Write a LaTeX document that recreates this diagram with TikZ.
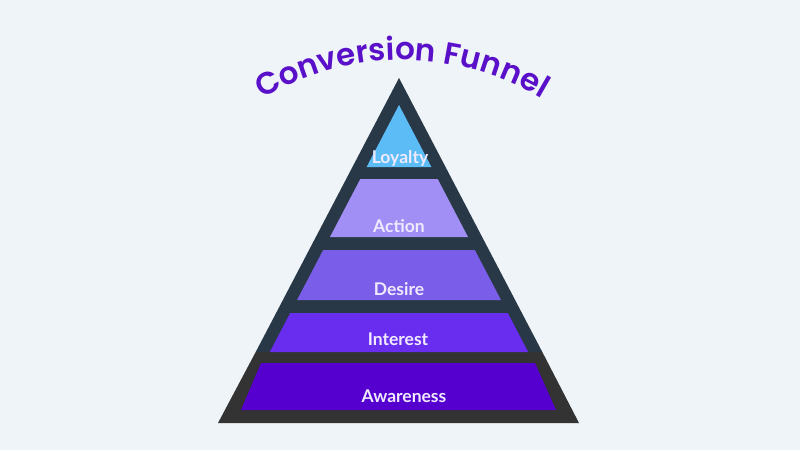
\documentclass[tikz,border=0pt]{standalone}
\usepackage{fontspec}
\usetikzlibrary{decorations.text}
\newfontfamily\titlefont{Poppins SemiBold}
\newfontfamily\labelfont{Lato}
\definecolor{bgc}{HTML}{EEF4F8}
\definecolor{slatec}{HTML}{293846}
\definecolor{grayc}{HTML}{333333}
\definecolor{loyc}{HTML}{5BBCF6}
\definecolor{actc}{HTML}{A18FF5}
\definecolor{desc}{HTML}{7A5DE8}
\definecolor{intc}{HTML}{692DF0}
\definecolor{awac}{HTML}{5500CF}
\definecolor{titlec}{HTML}{5A10C8}
\definecolor{labc}{HTML}{F0EAFF}
\newcommand\pband[3]{\fill[#3] ({399-0.523*(#1-105)},#1) -- ({399+0.523*(#1-105)},#1) -- ({399+0.523*(#2-105)},#2) -- ({399-0.523*(#2-105)},#2) -- cycle;}
\begin{document}
\begin{tikzpicture}[x=1pt,y=-1pt,
  lab/.style={text=labc,font=\labelfont\bfseries\fontsize{17.5}{20}\selectfont,inner sep=0pt,anchor=base}]
\useasboundingbox (0,0) rectangle (800,450);
\fill[bgc] (0,0) rectangle (800,450);
% outer pyramid
\fill[slatec] (399,78) -- (542.3,352) -- (255.7,352) -- cycle;
\fill[grayc] (255.7,352) -- (542.3,352) -- (579,423) -- (218,423) -- cycle;
% bands
\fill[loyc] (399,105) -- (431.4,167) -- (366.6,167) -- cycle;
\pband{179}{237}{actc}
\pband{250}{300}{desc}
\pband{313}{352}{intc}
\fill[awac] (261,363) -- (535,363) -- (556,410) -- (241,410) -- cycle;
% labels
\node[lab] (loyalty) at (400,163) {Loyalty};
\node[lab] (action) at (399,232) {Action};
\node[lab] (desire) at (399,295) {Desire};
\node[lab] (interest) at (398,345) {Interest};
\node[lab] (awareness) at (404,402) {Awareness};
% title
\path[decorate,decoration={text along path,text align=center,
  text={|\titlefont\fontsize{31}{36}\selectfont\color{titlec}|Conversion Funnel}}]
  (242,112) arc[start angle=126,end angle=54,radius=272pt];
\end{tikzpicture}
\end{document}
